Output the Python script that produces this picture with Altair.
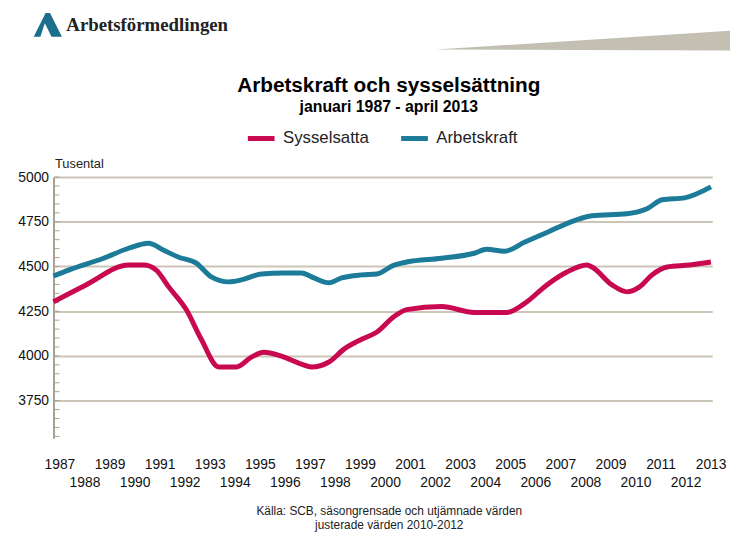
import altair as alt
import pandas as pd

# ---- data (thousands) ----
ak_year = [1987.0, 1987.6, 1989.0, 1990.0, 1990.8, 1991.4, 1992.0, 1992.7, 1993.3, 1994.0,
           1994.5, 1995.3, 1996.2, 1996.9, 1997.4, 1998.0, 1998.5, 1999.3, 1999.9, 2000.6,
           2001.1, 2002.5, 2003.8, 2004.3, 2005.0, 2005.8, 2006.7, 2007.8, 2008.5, 2009.9,
           2010.7, 2011.3, 2012.2, 2013.25]
ak_val = [4447, 4480, 4546, 4602, 4630, 4591, 4552, 4519, 4442, 4414,
          4425, 4458, 4464, 4464, 4436, 4409, 4436, 4453, 4458, 4508,
          4525, 4546, 4574, 4596, 4585, 4635, 4690, 4757, 4784, 4795,
          4823, 4873, 4884, 4945]

sy_year = [1987.0, 1988.3, 1990.0, 1990.6, 1991.1, 1991.6, 1992.3, 1992.9, 1993.6, 1994.3,
           1994.9, 1995.4, 1996.1, 1996.9, 1997.3, 1998.0, 1998.6, 1999.3, 1999.9, 2000.6,
           2001.1, 2002.5, 2003.8, 2005.1, 2005.8, 2006.7, 2007.5, 2008.3, 2008.5, 2009.3,
           2009.9, 2010.4, 2010.9, 2011.5, 2012.4, 2013.25]
sy_val = [4303, 4397, 4508, 4508, 4480, 4386, 4259, 4093, 3938, 3938,
          3993, 4021, 3999, 3954, 3938, 3966, 4038, 4093, 4132, 4220,
          4259, 4276, 4243, 4243, 4292, 4397, 4469, 4508, 4497, 4397,
          4358, 4386, 4453, 4497, 4508, 4525]

series = ["Sysselsatta", "Arbetskraft"]
colors = ["#c8084f", "#1b7b98"]
year_ticks = list(range(1987, 2014))
major_y = [3750, 4000, 4250, 4500, 4750, 5000]
minor_y = list(range(3550, 5001, 50))

title_text = "Arbetskraft och sysselsättning"
subtitle_text = "januari 1987 - april 2013"
logo_name = "Arbetsförmedlingen"

df = pd.DataFrame({
    "year": sy_year + ak_year,
    "value": sy_val + ak_val,
    "serie": ["Sysselsatta"] * len(sy_year) + ["Arbetskraft"] * len(ak_year),
})

FONT = "Liberation Sans"

x_scale = alt.Scale(domain=[1987, 2013.3], nice=False, zero=False)
y_scale = alt.Scale(domain=[3540, 5000], nice=False, zero=False)

lines = alt.Chart(df).mark_line(strokeWidth=5, interpolate="monotone").encode(
    x=alt.X("year:Q", scale=x_scale,
            axis=alt.Axis(values=year_ticks, format="d", domain=False, ticks=False, grid=False,
                          labelExpr="datum.value % 2 == 1 ? datum.label : ['', datum.label]",
                          labelOverlap=False, labelFlush=False, labelFontSize=14,
                          labelColor="#111", labelFont=FONT, labelPadding=27,
                          labelOffset=6,
                          labelBaseline="middle", labelLineHeight=18,
                          title=["Källa: SCB, säsongrensade och utjämnade värden",
                                 "justerade värden 2010-2012"],
                          titleFontSize=12, titleFontWeight="normal", titleFont=FONT,
                          titleColor="#222", titlePadding=16, titleLineHeight=14,
                          titleX=339)),
    y=alt.Y("value:Q", scale=y_scale,
            axis=alt.Axis(values=major_y, format="d", domain=True, domainColor="#a8a196",
                          domainWidth=2, ticks=False, grid=True, gridColor="#cdc6b8",
                          gridWidth=2, labelFontSize=14, labelFont=FONT, labelColor="#111",
                          labelPadding=5,
                          title="Tusental", titleAngle=0, titleAlign="left",
                          titleBaseline="bottom", titleX=1, titleY=-7,
                          titleFontSize=13, titleFontWeight="normal", titleFont=FONT,
                          titleColor="#222")),
    color=alt.Color("serie:N", scale=alt.Scale(domain=series, range=colors),
                    sort=series,
                    legend=alt.Legend(title=None, orient="none", direction="horizontal",
                                      legendX=194, legendY=-55, symbolType="stroke",
                                      symbolStrokeWidth=5, symbolSize=729,
                                      labelFontSize=17, labelFont=FONT, labelColor="#222",
                                      labelOffset=6, columnPadding=22)),
    order=alt.Order("year:Q"),
)

minor = alt.Chart(pd.DataFrame({"v": minor_y})).mark_rule(color="#a8a196", strokeWidth=1).encode(
    y=alt.Y("v:Q", scale=y_scale),
    x=alt.value(1), x2=alt.value(6),
)

title_mark = alt.Chart(pd.DataFrame({"t": [title_text]})).mark_text(
    font=FONT, fontSize=21, fontWeight="bold", align="center", baseline="middle", color="#000"
).encode(text="t:N", x=alt.value(339), y=alt.value(-92))

subtitle_mark = alt.Chart(pd.DataFrame({"t": [subtitle_text]})).mark_text(
    font=FONT, fontSize=16, fontWeight="bold", align="center",
    baseline="middle", color="#000"
).encode(text="t:N", x=alt.value(339), y=alt.value(-71))

logo_text = alt.Chart(pd.DataFrame({"t": [logo_name]})).mark_text(
    font="Liberation Serif", fontSize=19, align="left", baseline="middle", color="#222",
    fontWeight="bold"
).encode(text="t:N", x=alt.value(13), y=alt.value(-154))

logo_icon = alt.Chart(pd.DataFrame({"t": ["a"]})).mark_point(
    shape="M -1 0.8 L -0.2 -0.8 L 0.1 -0.8 L 0.9 0.8 L 0.2 0.8 L -0.25 -0.1 L -0.55 0.8 Z",
    filled=True, color="#1b6f8c", opacity=1, size=900
).encode(x=alt.value(-5), y=alt.value(-154))

wedge = alt.Chart(pd.DataFrame({"t": ["w"]})).mark_point(
    shape="M -1 0.047 L 1 -0.08 L 1 0.053 Z",
    filled=True, color="#bdb8ab", opacity=0.9, size=90000
).encode(x=alt.value(536), y=alt.value(-136))

chart = alt.layer(wedge, logo_icon, logo_text, title_mark, subtitle_mark, minor, lines).properties(
    width=666, height=264,
    autosize=alt.AutoSizeParams(type="none"),
    padding={"left": 46, "top": 168, "right": 18, "bottom": 100},
).configure_view(stroke=None)

chart.save("out.html", embed_options={"renderer": "svg", "actions": False})
